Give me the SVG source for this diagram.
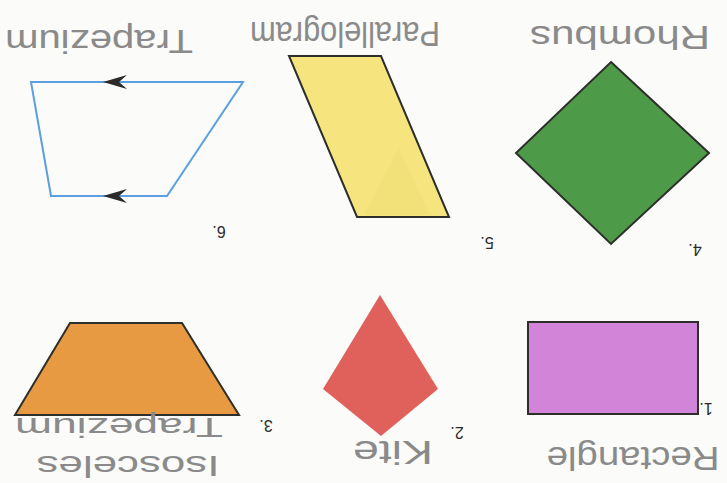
<svg xmlns="http://www.w3.org/2000/svg" width="727" height="483" viewBox="0 0 727 483">
  <style>
    .shape { stroke: #2e2e2a; stroke-width: 2; stroke-linejoin: miter; }
    .label { font-family: "Liberation Sans", "DejaVu Sans", sans-serif; fill: #8a8a8a; font-weight: normal; }
    .num { font-family: "Liberation Sans", "DejaVu Sans", sans-serif; fill: #2a2a2a; font-size: 16px; text-anchor: middle; }
  </style>
  <rect x="0" y="0" width="727" height="483" fill="#fbfbf9"/>

  <g id="rhombus">
    <polygon class="shape" points="611,62 709,153 611,244 516,153" fill="#4d9b49" stroke-width="1.5"/>
    <text class="label" font-size="33" text-anchor="middle" textLength="180" lengthAdjust="spacingAndGlyphs" transform="translate(620,26) rotate(180)">Rhombus</text>
    <text class="num" transform="translate(695,244) rotate(180)">4.</text>
  </g>

  <g id="parallelogram">
    <polygon class="shape" points="289,56 381,56 449,217 357,217" fill="#f6e47e"/>
    <polygon points="399,148 430,215 364,215" fill="#e8d56a" opacity="0.2"/>
    <text class="label" font-size="35" text-anchor="middle" textLength="190" lengthAdjust="spacingAndGlyphs" transform="translate(345,22) rotate(180)">Parallelogram</text>
    <text class="num" transform="translate(487,237) rotate(180)">5.</text>
  </g>

  <g id="trapezium">
    <polygon points="31,82 243,82 167,196 51,196" fill="none" stroke="#5b9fe0" stroke-width="2"/>
    <text class="label" font-size="33" text-anchor="middle" textLength="188" lengthAdjust="spacingAndGlyphs" transform="translate(99,30) rotate(180)">Trapezium</text>
    <text class="num" transform="translate(219,226) rotate(180)">6.</text>
  </g>

  <g id="rectangle">
    <rect class="shape" x="528" y="322" width="170" height="92" fill="#d184d8"/>
    <text class="label" font-size="33" text-anchor="middle" textLength="173" lengthAdjust="spacingAndGlyphs" transform="translate(633,447) rotate(180)">Rectangle</text>
    <text class="num" transform="translate(706,403) rotate(180)">1.</text>
  </g>

  <g id="kite">
    <polygon points="380,295 438,389 381,436 323,389" fill="#e0605c"/>
    <text class="label" font-size="34" text-anchor="middle" textLength="80" lengthAdjust="spacingAndGlyphs" transform="translate(393,441) rotate(180)">Kite</text>
    <text class="num" transform="translate(457,427) rotate(180)">2.</text>
  </g>

  <g id="isosceles-trapezium">
    <polygon class="shape" points="70,323 182,323 239,415 15,415" fill="#e89a42"/>
    <text class="label" font-size="28" text-anchor="middle" textLength="208" lengthAdjust="spacingAndGlyphs" transform="translate(119,418) rotate(180)">Trapezium</text>
    <text class="label" font-size="29" text-anchor="middle" textLength="183" lengthAdjust="spacingAndGlyphs" transform="translate(128,456) rotate(180)">Isosceles</text>
    <text class="num" transform="translate(266,420) rotate(180)">3.</text>
  </g>

  <g id="connectors">
    <path d="M103,82 L127,75 L119,82 L127,89 Z" fill="#2a2a2a"/>
    <path d="M103,196 L127,189 L119,196 L127,203 Z" fill="#2a2a2a"/>
  </g>
</svg>
